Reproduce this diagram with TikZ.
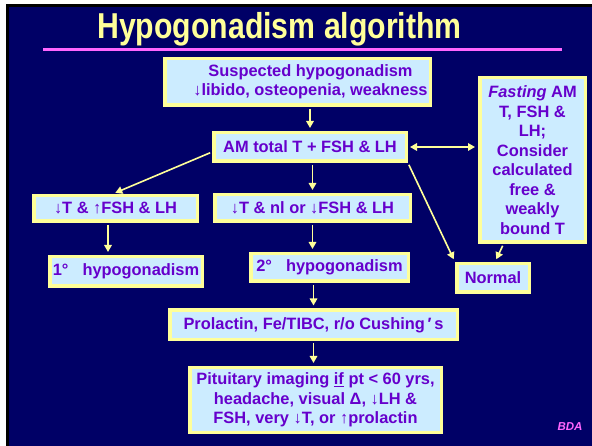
\documentclass[tikz,border=0pt]{standalone}
\usepackage{fontspec}
\setmainfont{Liberation Sans}
\newfontfamily\titlefont[FakeStretch=0.84]{Liberation Sans}
\usetikzlibrary{arrows.meta}

\definecolor{slidebg}{RGB}{0,0,102}
\definecolor{boxfill}{RGB}{204,236,255}
\definecolor{boxedge}{RGB}{255,255,153}
\definecolor{boxtext}{RGB}{102,0,204}
\definecolor{rulepink}{RGB}{255,102,255}

\tikzstyle{box}=[draw=boxedge,fill=boxfill,line width=3.5pt,inner sep=0pt,
    align=center,text=boxtext,font=\bfseries\fontsize{16.4}{19.5}\selectfont]
\tikzstyle{boxlabel}=[inner sep=0pt,align=center,text=boxtext,
    font=\bfseries\fontsize{16.4}{19.5}\selectfont]
\tikzstyle{transition}=[draw=boxedge,line width=1.6pt,
    >={Triangle[length=7pt,width=7.5pt]},shorten >=3pt,shorten <=2pt]
\newcommand{\flowbox}[5][]{
    \node[box,minimum width=#2,#1] at (#3) (#4) {#5};
}
\newcommand{\flowarrow}[3][->]{\draw[transition,#1] (#2)--(#3);}

\begin{document}
\begin{tikzpicture}[x=1pt,y=-1pt]
    \useasboundingbox (0,0) rectangle (592,446);
    \fill[white] (0,0) rectangle (592,446);
    \fill[black] (6,4) rectangle (592,446);
    \fill[slidebg] (9,7) rectangle (592,446);

    % title
    \node[anchor=base,inner sep=0pt,text=boxedge,
        font=\titlefont\bfseries\fontsize{36}{40}\selectfont]
        (title) at (279.5,39) {Hypogonadism algorithm};
    \draw[rulepink,line width=3pt] (43,49.5) -- (562,49.5);

    \flowbox[minimum height=46.5,label={[boxlabel,xshift=13pt]center:{Suspected hypogonadism\\↓libido, osteopenia, weakness}}]{265.5}{297.5,82}{susp}{}
    \flowbox[minimum height=28.5]{192.5}{310,147}{am}{AM total T + FSH \& LH}
    \flowbox[minimum height=164.5]{105.5}{532.5,160}{fast}{\textit{Fasting} AM\\T, FSH \&\\LH;\\Consider\\calculated\\free \&\\weakly\\bound T}
    \flowbox[minimum height=28.5]{72.5}{493,278}{normal}{Normal}
    \flowbox[minimum height=25.5]{163.5}{115.5,208.5}{lowT}{↓T \& ↑FSH \& LH}
    \flowbox[minimum height=26.5]{195.5}{312.5,208}{lowN}{↓T \& nl or ↓FSH \& LH}
    \flowbox[minimum height=29.5]{152.5}{126,271.5}{prim}{1°\hspace{14pt}hypogonadism}
    \flowbox[minimum height=27.5]{157.5}{329.5,267.5}{sec}{2°\hspace{14pt}hypogonadism}
    \flowbox[minimum height=29.5]{287.5}{313.5,325}{prl}{Prolactin, Fe/TIBC, r/o Cushing\,′\,s}
    \flowbox[minimum height=64.5]{251.5}{315.5,400}{pit}{Pituitary imaging \underline{if} pt < 60 yrs,\\headache, visual Δ, ↓LH \&\\FSH, very ↓T, or ↑prolactin}

    \node[text=rulepink,inner sep=0pt,font=\bfseries\itshape\fontsize{11.5}{12}\selectfont]
        (bda) at (570,427) {BDA};

    \flowarrow{am.north |- susp.south}{am.north}
    \flowarrow{[yshift=-5pt]am.west}{[xshift=-3pt]lowT.north}
    \flowarrow{lowN.north |- am.south}{lowN.north}
    \flowarrow[<->]{am.east}{fast.west |- am.east}
    \flowarrow{am.south east}{normal.north west}
    \flowarrow{[xshift=-29pt]fast.south}{[xshift=2pt]normal.north}
    \flowarrow{[xshift=-7.5pt]lowT.south}{[xshift=-7.5pt]lowT.south |- prim.north}
    \flowarrow{lowN.south}{lowN.south |- sec.north}
    \flowarrow{prl.north |- sec.south}{prl.north}
    \flowarrow{prl.south}{prl.south |- pit.north}
\end{tikzpicture}
\end{document}
